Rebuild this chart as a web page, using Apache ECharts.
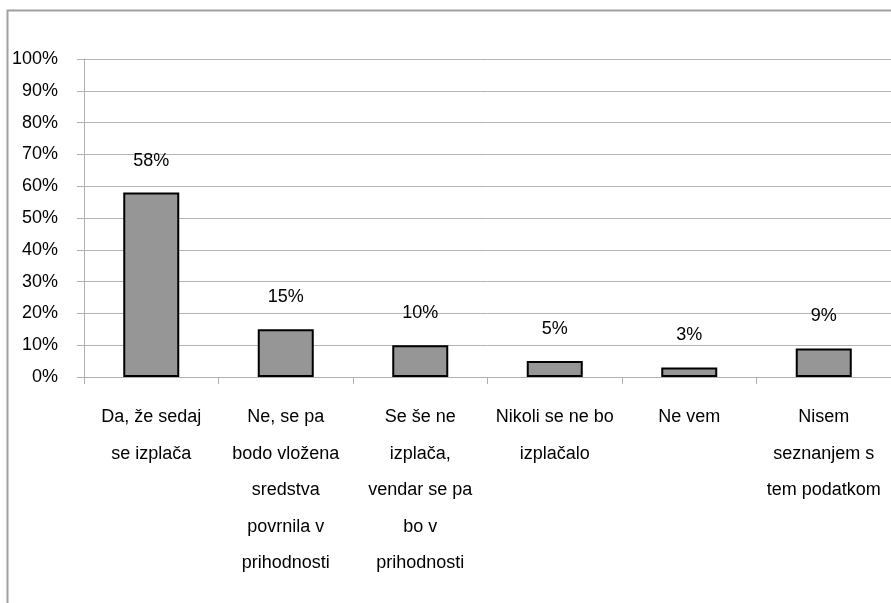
<!DOCTYPE html>
<html>
<head>
<meta charset="utf-8">
<script src="https://cdn.jsdelivr.net/npm/echarts@6/dist/echarts.min.js"></script>
<style>html,body{margin:0;padding:0;background:#fff}#c{width:891px;height:603px}</style>
</head>
<body>
<div id="c"></div>
<script>
const categories = [
  "Da, že sedaj\nse izplača",
  "Ne, se pa\nbodo vložena\nsredstva\npovrnila v\nprihodnosti",
  "Se še ne\nizplača,\nvendar se pa\nbo v\nprihodnosti",
  "Nikoli se ne bo\nizplačalo",
  "Ne vem",
  "Nisem\nseznanjem s\ntem podatkom"
];
const values = [58, 15, 10, 5, 3, 9];
const yTicks = [0, 10, 20, 30, 40, 50, 60, 70, 80, 90, 100];

const chart = echarts.init(document.getElementById('c'), null, {renderer: 'canvas'});
const font = 'Liberation Sans, Arial, sans-serif';
chart.setOption({
  animation: false,
  graphic: [{
    type: 'polyline', silent: true,
    shape: {points: [[7.5, 620], [7.5, 10.5], [900, 10.5]]},
    style: {fill: 'none', stroke: '#a0a0a0', lineWidth: 2}
  }],
  grid: {left: 84, top: 59, width: 813, height: 318},
  xAxis: {
    type: 'category',
    data: categories,
    axisLine: {lineStyle: {color: '#b0b0b0', width: 1}},
    axisTick: {show: true, length: 7, lineStyle: {color: '#b0b0b0'}},
    axisLabel: {color: '#000', fontFamily: font, fontSize: 18, lineHeight: 36.5, margin: 22, interval: 0}
  },
  yAxis: {
    type: 'value',
    min: yTicks[0], max: yTicks[yTicks.length - 1], interval: 10,
    axisLine: {show: true, lineStyle: {color: '#b0b0b0', width: 1}},
    axisTick: {show: true, length: 7, lineStyle: {color: '#b0b0b0'}},
    splitLine: {lineStyle: {color: '#b4b4b4', width: 1}},
    axisLabel: {color: '#000', fontFamily: font, fontSize: 18, margin: 26, formatter: v => v + '%'}
  },
  series: [{
    type: 'bar',
    data: values,
    barWidth: 56,
    itemStyle: {color: '#969696', borderColor: '#000', borderWidth: 2},
    label: {show: true, position: 'top', distance: 23, color: '#000', fontFamily: font, fontSize: 18, formatter: p => p.value + '%'}
  }]
});
</script>
</body>
</html>
